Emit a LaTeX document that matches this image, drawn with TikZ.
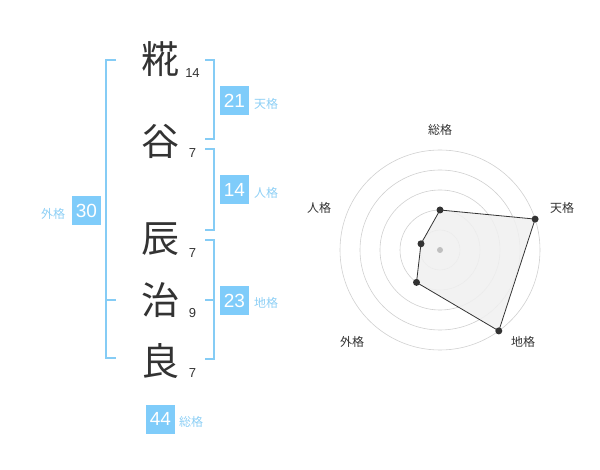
\documentclass[tikz,border=0pt]{standalone}
\usepackage{fontspec}
\setmainfont{Liberation Sans}
\newfontfamily\cjk{Noto Sans CJK JP}
\definecolor{boxblue}{HTML}{7FCCFA}
\definecolor{lblblue}{HTML}{8DCFF5}
\definecolor{brk}{HTML}{85CCF5}
\definecolor{ink}{HTML}{333333}
\definecolor{ring}{HTML}{D0D0D0}
\definecolor{area}{HTML}{F0F0F0}
\tikzset{
  kanji/.style={text=ink,font=\cjk\fontsize{38}{38}\selectfont,inner sep=0pt},
  strokes/.style={text=ink,font=\fontsize{13}{13}\selectfont,inner sep=0pt},
  numbox/.style={fill=boxblue,text=white,font=\fontsize{19}{19}\selectfont,minimum width=29pt,minimum height=29pt,inner sep=0pt},
  kaku/.style={text=lblblue,font=\cjk\fontsize{12}{12}\selectfont,inner sep=0pt},
  bracket/.style={draw=brk,line width=2pt},
  radlbl/.style={text=ink,font=\cjk\fontsize{12}{12}\selectfont,inner sep=0pt},
  dot/.style={circle,fill=ink,inner sep=0pt,minimum size=7pt},
}
\begin{document}
\begin{tikzpicture}[x=1pt,y=-1pt]
\useasboundingbox (0,0) rectangle (600,470);
% name characters
\node[kanji] (c1) at (160,59) {糀};
\node[kanji] (c2) at (160,141) {谷};
\node[kanji] (c3) at (160,239) {辰};
\node[kanji] (c4) at (160,300) {治};
\node[kanji] (c5) at (160,361) {良};
\node[strokes] (s1) at (192.5,73) {14};
\node[strokes] (s2) at (192.5,153) {7};
\node[strokes] (s3) at (192.5,253) {7};
\node[strokes] (s4) at (192.5,313) {9};
\node[strokes] (s5) at (192.5,373) {7};
% brackets
\draw[bracket] (116,60) -- (106,60) -- (106,358) -- (116,358);
\draw[bracket] (106,300) -- (116,300);
\draw[bracket] (205,60) -- (214,60) -- (214,139) -- (205,139);
\draw[bracket] (205,149) -- (214,149) -- (214,230) -- (205,230);
\draw[bracket] (205,240) -- (214,240) -- (214,359) -- (205,359);
\draw[bracket] (205,300) -- (214,300);
% boxes
\node[numbox] (ten) at (234.5,100.5) {21};
\node[kaku] (tenl) at (266,104) {天格};
\node[numbox] (jin) at (234.5,190) {14};
\node[kaku] (jinl) at (266,193) {人格};
\node[numbox] (chi) at (234.5,300.5) {23};
\node[kaku] (chil) at (266,303) {地格};
\node[numbox] (gai) at (86.5,211) {30};
\node[kaku] (gail) at (53,214) {外格};
\node[numbox] (sou) at (160.5,419) {44};
\node[kaku] (soul) at (191,422) {総格};
% radar chart
\coordinate (O) at (440,250);
\foreach \r in {20,40,60,80,100} \draw[ring,line width=0.6pt] (O) circle[radius=\r];
\path (O) ++(90:-40) coordinate (p1);
\path (O) ++(18:100) coordinate (p2tmp);
\coordinate (p1) at (440,210);
\coordinate (p2) at (535.1,219.1);
\coordinate (p3) at (498.8,330.9);
\coordinate (p4) at (416.5,282.4);
\coordinate (p5) at (421,243.8);
\draw[fill=area,fill opacity=0.85,draw=ink,line width=0.8pt] (p1) -- (p2) -- (p3) -- (p4) -- (p5) -- cycle;
\node[circle,fill=black!25,inner sep=0pt,minimum size=6pt] (ctr) at (O) {};
\foreach \p in {p1,p2,p3,p4,p5} \node[dot] at (\p) {};
\node[radlbl] (r1) at (440,130) {総格};
\node[radlbl] (r2) at (562,208) {天格};
\node[radlbl] (r3) at (523,342) {地格};
\node[radlbl] (r4) at (352,342) {外格};
\node[radlbl] (r5) at (319,208) {人格};
\end{tikzpicture}
\end{document}
